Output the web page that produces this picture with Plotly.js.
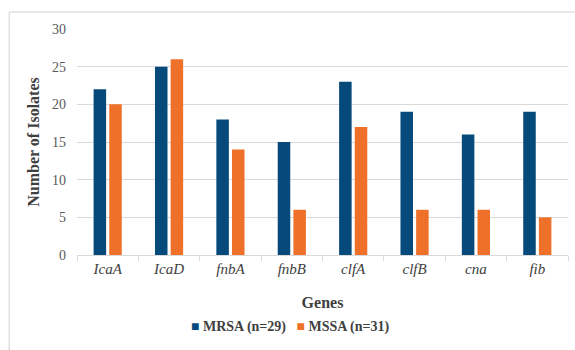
<!DOCTYPE html>
<html>
<head>
<meta charset="utf-8">
<script src="https://cdn.plot.ly/plotly-3.0.1.min.js"></script>
<style>html,body{margin:0;padding:0;background:#fff;}#chart{width:575px;height:350px;}</style>
</head>
<body>
<div id="chart"></div>
<script>
const genes = ["IcaA", "IcaD", "fnbA", "fnbB", "clfA", "clfB", "cna", "fib"];
const geneLabels = ["<i>IcaA</i>", "<i>IcaD</i>", "<i>fnbA</i>", "<i>fnbB</i>", "<i>clfA</i>", "<i>clfB</i>", "<i>cna</i>", "<i>fib</i>"];
const mrsa = [22, 25, 18, 15, 23, 19, 16, 19];
const mssa = [20, 26, 14, 6, 17, 6, 6, 5];
const yTicks = [0, 5, 10, 15, 20, 25, 30];
const seriesNames = ["MRSA (n=29)", "MSSA (n=31)"];
const seriesColors = ["#064a7b", "#ee7029"];

const font = "Liberation Serif, Tinos, Times New Roman, DejaVu Serif, serif";
const data = [
  {type: "bar", name: seriesNames[0], x: genes, y: mrsa, marker: {color: seriesColors[0]}},
  {type: "bar", name: seriesNames[1], x: genes, y: mssa, marker: {color: seriesColors[1]}}
];
const legendText = seriesNames.map((n, i) =>
  '<span style="color:' + seriesColors[i] + '">■</span><b> ' + n + '</b>').join('&nbsp;&nbsp;&nbsp;');
const layout = {
  width: 575, height: 350,
  margin: {l: 77, r: 7, t: 29, b: 95},
  paper_bgcolor: "#fff", plot_bgcolor: "#fff",
  font: {family: font, color: "#595959", size: 13},
  barmode: "group", bargap: 0.49, bargroupgap: 0.2,
  showlegend: false,
  xaxis: {
    tickvals: genes, ticktext: geneLabels,
    tickson: "boundaries", ticks: "outside", ticklen: 5, tickcolor: "#d9d9d9",
    showline: true, linecolor: "#d9d9d9", linewidth: 1,
    tickfont: {family: font, size: 15, color: "#404040"},
    title: {text: "<b>Genes</b>", font: {family: font, size: 16, color: "#404040"}, standoff: 20},
    fixedrange: true
  },
  yaxis: {
    range: [0, 30], tickvals: yTicks, ticktext: yTicks.map(String),
    showgrid: true, gridcolor: "#d9d9d9", gridwidth: 1, zeroline: false, showline: false,
    tickfont: {family: font, size: 14, color: "#595959"}, ticks: "", ticklabelstandoff: 10,
    title: {text: "<b>Number of Isolates</b>", font: {family: font, size: 16, color: "#404040"}, standoff: 8},
    fixedrange: true
  },
  annotations: [
    {xref: "paper", yref: "paper", x: 0.435, y: -0.32, xanchor: "center", yanchor: "middle",
     showarrow: false, text: legendText, font: {family: font, size: 14, color: "#404040"}}
  ],
  shapes: [
    {type: "line", xref: "paper", yref: "paper", x0: -0.138, x1: 1.02, y0: 1.075, y1: 1.075, line: {color: "#e0e0e0", width: 1.5}},
    {type: "line", xref: "paper", yref: "paper", x0: -0.138, x1: -0.138, y0: 1.075, y1: -0.42, line: {color: "#e0e0e0", width: 1.5}}
  ]
};
Plotly.newPlot("chart", data, layout, {displayModeBar: false, staticPlot: true});
</script>
</body>
</html>
